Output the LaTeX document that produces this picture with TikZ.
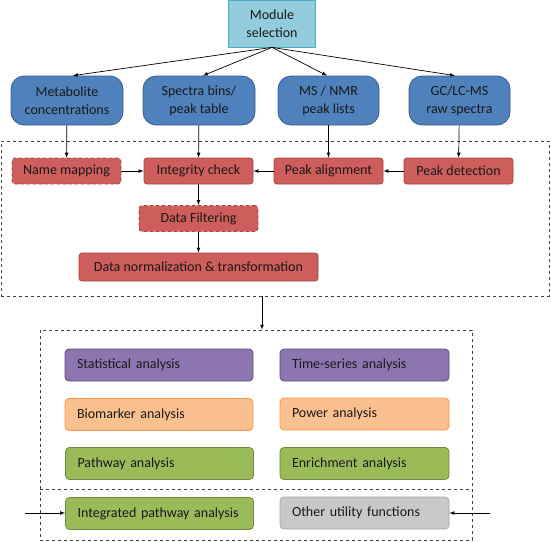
\documentclass[tikz,border=0pt]{standalone}
\usepackage{fontspec}
\setmainfont{Carlito}
\usepackage{tikz}
\definecolor{selfill}{HTML}{93CDDD}
\definecolor{selline}{HTML}{4BACC6}
\definecolor{infill}{HTML}{4F81BD}
\definecolor{inline}{HTML}{385D8A}
\definecolor{stepfill}{HTML}{CD5E5B}
\definecolor{stepline}{HTML}{A34442}
\definecolor{purfill}{HTML}{8D76B0}
\definecolor{purline}{HTML}{5F4A7E}
\definecolor{orfill}{HTML}{FAC090}
\definecolor{orline}{HTML}{F79646}
\definecolor{grfill}{HTML}{9BBB59}
\definecolor{grline}{HTML}{71893F}
\definecolor{gyfill}{HTML}{C8C8C8}
\definecolor{gyline}{HTML}{A6A6A6}
\tikzstyle{every node}=[font=\fontsize{14}{18}\selectfont, text=black!90]
\tikzstyle{selbox}=[rectangle,draw=selline,fill=selfill,align=center,minimum width=87pt,minimum height=47pt,line width=0.8pt]
\tikzstyle{inbox}=[rectangle,rounded corners=13pt,draw=inline,fill=infill,align=center,minimum height=49pt,line width=0.8pt]
\tikzstyle{stepbox}=[rectangle,rounded corners=3pt,draw=stepline,fill=stepfill,minimum width=109pt,minimum height=26pt,line width=0.8pt]
\tikzstyle{optbox}=[stepbox,dashed]
\tikzstyle{anabox}=[rectangle,rounded corners=4pt,align=left,inner xsep=12pt,minimum height=32pt,line width=0.8pt]
\tikzstyle{groupbox}=[rectangle,draw=black!75,dashed,line width=0.6pt]
\tikzstyle{arr}=[->,>=latex,line width=0.7pt]

\begin{document}
\begin{tikzpicture}[x=1pt,y=-1pt]
        \useasboundingbox (0,0) rectangle (551,541);
        \node[groupbox,minimum width=548pt,minimum height=155pt] (prep) at (275,218.5) {};
        \node[groupbox,minimum width=432pt,minimum height=210pt] (ana) at (256,435) {};
        \draw[dashed,draw=black!75,line width=0.6pt] (ana.west |- 0,489) -- (ana.east |- 0,489);
        \node[selbox] (sel) at (272,23.5) {Module\\selection};
        \node[inbox,minimum width=112pt] (conc) at (67,100.5) {Metabolite\\concentrations};
        \node[inbox,minimum width=112pt] (bins) at (199,100.5) {Spectra bins/\\peak table};
        \node[inbox,minimum width=101pt] (lists) at (328.5,100.5) {MS / NMR\\peak lists};
        \node[inbox,minimum width=101pt] (raw) at (459.5,100.5) {GC/LC-MS\\raw spectra};
        \node[optbox] (name) at (66.5,171) {Name mapping};
        \node[stepbox] (integ) at (198.5,171) {Integrity check};
        \node[stepbox] (align) at (328.5,171) {Peak alignment};
        \node[stepbox] (detect) at (458.5,171) {Peak detection};
        \node[optbox,minimum width=119pt] (filt) at (198.5,218.5) {Data Filtering};
        \node[stepbox,minimum width=239pt,minimum height=28pt] (norm) at (198.5,267) {Data normalization \& transformation};
        \node[anabox,draw=purline,fill=purfill,text width=164pt] (stat) at (159,365) {Statistical analysis};
        \node[anabox,draw=purline,fill=purfill,text width=145pt] (time) at (364.5,365) {Time-series analysis};
        \node[anabox,draw=orline,fill=orfill,text width=164pt] (bio) at (159,414.5) {Biomarker analysis};
        \node[anabox,draw=orline,fill=orfill,text width=145pt] (power) at (364.5,414) {Power analysis};
        \node[anabox,draw=grline,fill=grfill,text width=164pt] (path) at (159.5,463.5) {Pathway analysis};
        \node[anabox,draw=grline,fill=grfill,text width=145pt] (enrich) at (364.5,463.5) {Enrichment analysis};
        \node[anabox,draw=grline,fill=grfill,text width=164pt] (integr) at (159.5,513.5) {Integrated pathway analysis};
        \node[anabox,draw=gyline,fill=gyfill,text width=145pt] (util) at (364.5,513) {Other utility functions};
        \coordinate (mid) at (262,313);
        \coordinate (lin) at (25,513);
        \coordinate (rin) at (490,513);
        \foreach \t/\x in {conc/73,bins/203,lists/327,raw/455}
            \draw[arr] (sel.south) -- (\t.north -| \x,0);
        \foreach \s/\t in {conc/name,bins/integ,lists/align,raw/detect,integ/filt,filt/norm}
            \draw[arr] (\s) -- (\t);
        \draw[arr] (name) -- (integ);
        \draw[arr] (align) -- (integ);
        \draw[arr] (detect) -- (align);
        \draw[arr] (prep.south -| mid) -- (ana.north -| mid);
        \draw[arr] (lin) -- (lin -| integr.west);
        \draw[arr] (rin) -- (rin -| util.east);
\end{tikzpicture}
\end{document}
